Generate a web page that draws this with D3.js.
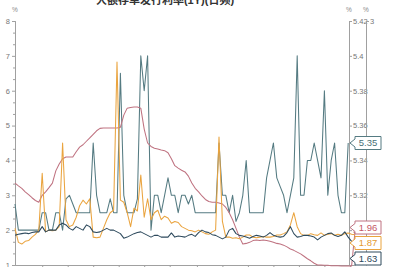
<!DOCTYPE html>
<html lang="zh">
<head>
<meta charset="utf-8">
<title>利率</title>
<script src="https://cdn.jsdelivr.net/npm/d3@7"></script>
<style>
body{margin:0;background:#fff;}
svg{display:block;font-family:"Liberation Sans","Noto Sans CJK SC",sans-serif;}
.axis path,.axis line{stroke:#a0a0a0;}
.axis text{fill:#777;font-size:7.5px;}
</style>
</head>
<body>
<script>
// daily points, left axis (%)
var red = [3.35,3.27,3.2,3.1,3.02,2.93,2.85,2.8,3.0,3.1,
 3.22,3.35,3.7,3.9,4.05,4.1,4.1,4.1,4.25,4.38,
 4.45,4.55,4.65,4.75,4.85,4.92,4.93,4.93,4.93,4.93,
 4.93,4.95,5.3,5.5,5.52,5.53,5.53,5.5,4.9,4.5,
 4.4,4.35,4.33,4.3,4.28,4.22,4.05,3.85,3.78,3.72,
 3.67,3.55,3.35,3.2,3.1,2.98,2.88,2.82,2.8,2.8,
 2.78,2.75,2.65,2.5,2.3,2.05,1.8,1.6,1.62,1.65,
 1.7,1.72,1.7,1.72,1.7,1.68,1.65,1.62,1.6,1.57,
 1.52,1.46,1.42,1.37,1.32,1.25,1.18,1.12,1.05,1.0,
 1.0,0.99,0.99,0.98,0.98,0.98,0.97,0.97,0.97,0.97,
 1.96]
var orange = [2.05,1.65,1.6,1.68,1.7,1.8,1.88,2.0,3.63,1.95,
 2.0,1.98,2.0,2.1,4.5,2.3,2.1,2.15,2.37,2.7,
 2.86,2.75,2.9,1.8,1.78,1.8,2.05,2.3,2.5,2.57,
 6.82,2.86,2.8,2.5,2.1,2.63,2.55,3.58,2.37,2.9,
 2.3,2.5,2.57,2.3,2.4,2.35,2.2,2.25,2.22,2.1,
 2.05,2.0,1.98,1.95,2.0,1.95,1.9,1.88,1.95,2.0,
 4.67,2.25,1.8,1.8,1.77,1.78,1.75,1.8,1.86,1.86,
 1.8,1.78,1.8,1.82,1.8,1.8,1.82,1.86,1.86,1.9,
 1.95,2.15,2.5,2.1,1.9,1.85,1.85,1.9,1.87,1.85,
 1.92,1.85,1.88,1.9,1.85,1.88,1.85,1.9,1.92,1.88,
 1.87]
var navy = [1.85,1.88,1.9,1.92,1.9,1.93,1.95,1.95,2.1,1.95,
 2.0,2.0,2.0,2.15,2.2,2.15,2.05,2.0,2.1,2.05,
 2.0,2.15,2.1,1.95,1.93,1.95,2.0,2.05,2.0,2.0,
 1.95,1.9,1.77,1.8,1.85,1.9,1.93,1.95,1.9,1.85,
 1.8,1.85,1.85,1.8,1.8,1.8,1.92,1.8,1.83,1.82,
 1.8,1.85,1.88,1.82,1.93,2.0,1.95,1.93,1.87,1.85,
 1.8,1.75,1.8,2.0,2.05,1.9,1.85,1.83,1.8,1.77,
 1.82,1.85,1.83,1.8,1.85,1.93,1.85,1.82,1.8,1.82,
 1.93,2.1,1.9,1.8,1.82,1.85,1.85,1.83,1.8,1.72,
 1.8,1.85,1.9,1.92,1.85,1.82,1.85,1.95,1.8,1.68,
 1.63]
// right axis (%)
var teal = [5.315,5.3,5.3,5.3,5.3,5.3,5.3,5.3,5.31,5.31,
 5.3,5.3,5.31,5.31,5.3,5.318,5.32,5.315,5.31,5.31,
 5.31,5.31,5.31,5.35,5.32,5.31,5.31,5.31,5.318,5.31,
 5.31,5.39,5.32,5.31,5.31,5.31,5.318,5.40,5.38,5.40,
 5.30,5.32,5.32,5.31,5.32,5.33,5.32,5.32,5.31,5.32,
 5.32,5.315,5.32,5.31,5.31,5.31,5.31,5.31,5.31,5.31,
 5.35,5.32,5.32,5.31,5.32,5.305,5.31,5.32,5.34,5.31,
 5.31,5.31,5.31,5.31,5.33,5.34,5.35,5.33,5.325,5.32,
 5.31,5.32,5.33,5.40,5.32,5.32,5.34,5.34,5.35,5.34,
 5.33,5.38,5.32,5.34,5.35,5.32,5.31,5.31,5.35]

var leftTicks = [1,2,3,4,5,6,7,8]
var rightTicks = [5.3,5.32,5.34,5.36,5.38,5.4,5.42]
var right2Ticks = [3]
var xTicks = [8,15.5,23,30.5,38,45.5,53.5,61,68.5,76,83.5,91,98.5]
var title = "大额存单发行利率(1Y)(日频)"

var w = 393, h = 267
var svg = d3.select("body").append("svg").attr("width", w).attr("height", h)

var x = d3.scaleLinear().domain([0, red.length-1]).range([15, 355])
var yL = d3.scaleLinear().domain([1, 8]).range([265, 21])
var yR = d3.scaleLinear().domain([5.28, 5.42]).range([265, 21])
var yR2 = d3.scaleLinear().domain([1.5, 3]).range([265, 21])

svg.append("text").text(title)
	.attr("x", 165).attr("y", 4)
	.attr("text-anchor", "middle")
	.attr("font-weight", "bold").attr("font-size", "11px").attr("fill", "#333")

// axes
var minor = []
leftTicks.slice(0, -1).forEach(function(t){ minor.push(t+1/3, t+2/3) })
svg.append("g").attr("class","axis").attr("transform","translate(15,0)")
	.call(d3.axisLeft(yL).tickValues(minor).tickSize(2).tickFormat(""))
svg.append("g").attr("class","axis").attr("transform","translate(15,0)")
	.call(d3.axisLeft(yL).tickValues(leftTicks).tickSize(3).tickPadding(2).tickFormat(d3.format("d")))
svg.append("g").attr("class","axis").attr("transform","translate(0,265)")
	.call(d3.axisBottom(x).tickValues(xTicks).tickSize(2).tickFormat("").tickSizeOuter(0))
svg.append("g").attr("class","axis").attr("transform","translate(349,0)")
	.call(d3.axisRight(yR).tickValues(rightTicks).tickSize(3).tickPadding(1)
		.tickFormat(function(d){ return +d.toFixed(2) }))
svg.append("g").attr("class","axis").attr("transform","translate(366,0)")
	.call(d3.axisRight(yR2).tickValues(right2Ticks).tickSize(3).tickPadding(1).tickSizeOuter(0)
		.tickFormat(d3.format("d")))

svg.selectAll(".unit").data([15, 349, 366]).enter().append("text")
	.text("%").attr("x", function(d){ return d }).attr("y", 12)
	.attr("text-anchor","middle").attr("font-size","6.5px").attr("fill","#888")

// series
var series = [
	{v: teal, y: yR, c: "#557b82", lab: "#4a6f76"},
	{v: red, y: yL, c: "#bf7280", lab: "#c55764"},
	{v: orange, y: yL, c: "#eaa43f", lab: "#e39a2f"},
	{v: navy, y: yL, c: "#2e4a5d", lab: "#2c475a"}
]
series.forEach(function(s){
	svg.append("path").datum(s.v)
		.attr("fill","none").attr("stroke", s.c).attr("stroke-width", 1.05)
		.attr("stroke-linejoin","round")
		.attr("d", d3.line().x(function(d,i){ return x(i) }).y(function(d){ return s.y(d) }))
})

// end labels
var ends = series.map(function(s){
	var last = s.v[s.v.length-1]
	return {s: s, val: last, cy: s.y(last)}
})
var stack = ends.filter(function(e){ return e.s.y === yL }).sort(function(a,b){ return a.cy-b.cy })
for (var i = 1; i < stack.length; i++){
	if (stack[i].cy < stack[i-1].cy + 15.5) stack[i].cy = stack[i-1].cy + 15.5
}
var shift = stack[stack.length-1].cy - 258.5
if (shift > 0) stack.forEach(function(e){ e.cy -= shift })

var lg = svg.selectAll(".endlab").data(ends).enter().append("g")
	.attr("transform", function(d){ return "translate(0," + d.cy + ")" })
lg.append("path")
	.attr("d", "M350,0L355,-4L355,-6.5L381,-6.5L381,6.5L355,6.5L355,4Z")
	.attr("fill","#fff").attr("stroke", function(d){ return d.s.c }).attr("stroke-width",1)
lg.append("text").text(function(d){ return d.val.toFixed(2) })
	.attr("x", 368).attr("y", 3.3).attr("text-anchor","middle")
	.attr("font-size","9.5px").attr("fill", function(d){ return d.s.lab })
</script>
</body>
</html>
